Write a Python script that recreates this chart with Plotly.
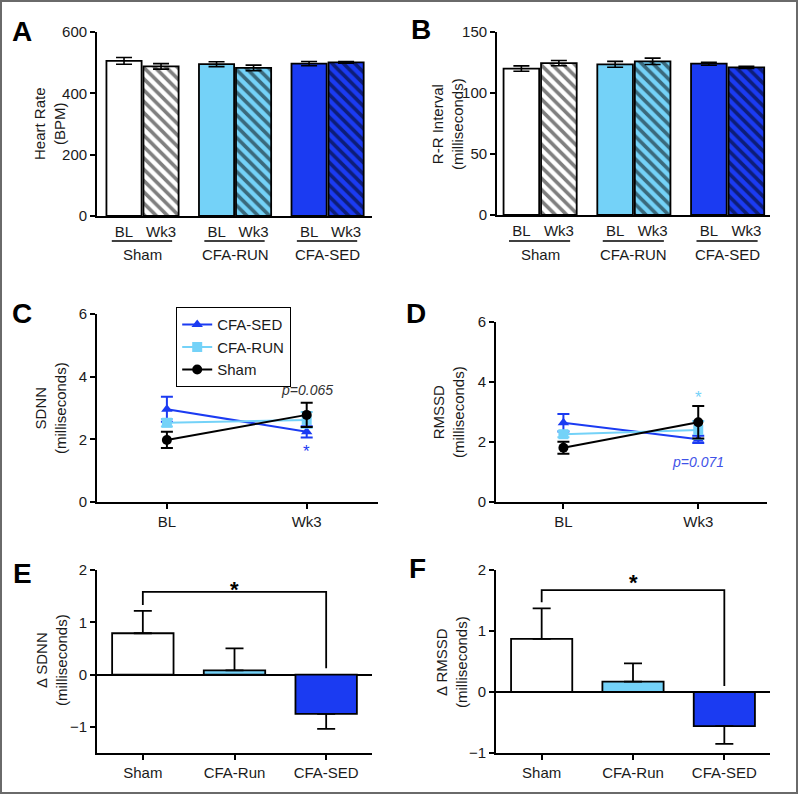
import plotly.graph_objects as go

# ---------------- data ----------------
groups = ["Sham", "CFA-RUN", "CFA-SED"]
timepoints = ["BL", "Wk3"]

hr_bl = [506, 495, 497]
hr_bl_err = [11, 8, 7]
hr_wk3 = [488, 483, 501]
hr_wk3_err = [9, 9, 3]

rr_bl = [120, 123.5, 124]
rr_bl_err = [2.2, 2.4, 1.2]
rr_wk3 = [124.5, 126, 121]
rr_wk3_err = [2.2, 2.6, 0.8]

line_series = ["CFA-SED", "CFA-RUN", "Sham"]
sdnn = {"CFA-SED": [2.96, 2.24], "CFA-RUN": [2.53, 2.62], "Sham": [1.98, 2.78]}
sdnn_err = {"CFA-SED": [0.4, 0.18], "CFA-RUN": [0.12, 0.25], "Sham": [0.26, 0.39]}
rmssd = {"CFA-SED": [2.64, 2.09], "CFA-RUN": [2.26, 2.4], "Sham": [1.81, 2.66]}
rmssd_err = {"CFA-SED": [0.29, 0.12], "CFA-RUN": [0.1, 0.3], "Sham": [0.2, 0.54]}

delta_cats = ["Sham", "CFA-Run", "CFA-SED"]
d_sdnn = [0.79, 0.08, -0.75]
d_sdnn_err = [0.43, 0.42, 0.29]
d_rmssd = [0.87, 0.17, -0.56]
d_rmssd_err = [0.5, 0.3, 0.29]

# ---------------- styles ----------------
W, H = 800, 797
WHITE = "#ffffff"
LIGHT = "#74D2F8"
BLUE = "#1B3BF2"
fills = [WHITE, LIGHT, BLUE]
line_colors = {"CFA-SED": BLUE, "CFA-RUN": LIGHT, "Sham": "#000000"}
symbols = {"CFA-SED": "triangle-up", "CFA-RUN": "square", "Sham": "circle"}
FONT = "Liberation Sans, Arial, sans-serif"
TXT = "#1a1a1a"


def fx(p):
    return p / W


def fy(p):
    return 1 - p / H


fig = go.Figure()

# ---------- A and B: grouped bars ----------
pitch_sub, pitch_grp = 1.0, 2.5
bl_x = [g * pitch_grp for g in range(len(groups))]
wk_x = [g * pitch_grp + pitch_sub for g in range(len(groups))]

for ax, blv, ble, wkv, wke in [("", hr_bl, hr_bl_err, hr_wk3, hr_wk3_err),
                                ("2", rr_bl, rr_bl_err, rr_wk3, rr_wk3_err)]:
    for g in range(len(groups)):
        fig.add_trace(go.Bar(
            x=[bl_x[g]], y=[blv[g]], width=0.95, xaxis="x" + ax, yaxis="y" + ax,
            showlegend=False,
            marker=dict(color=fills[g], line=dict(color="black", width=1.8)),
            error_y=dict(type="data", array=[ble[g]], color="black", thickness=1.6, width=8)))
        fig.add_trace(go.Bar(
            x=[wk_x[g]], y=[wkv[g]], width=0.95, xaxis="x" + ax, yaxis="y" + ax,
            showlegend=False,
            marker=dict(color=fills[g], line=dict(color="black", width=1.8),
                        pattern=dict(shape="\\", size=8, solidity=0.45,
                                     fgcolor="black", fillmode="overlay")),
            error_y=dict(type="data", array=[wke[g]], color="black", thickness=1.6, width=8)))

# ---------- C and D: line plots ----------
for ax, vals, errs, leg in [("3", sdnn, sdnn_err, True), ("4", rmssd, rmssd_err, False)]:
    for s in line_series:
        fig.add_trace(go.Scatter(
            x=timepoints, y=vals[s], name=s, mode="lines+markers",
            xaxis="x" + ax, yaxis="y" + ax, showlegend=leg,
            line=dict(color=line_colors[s], width=2),
            marker=dict(symbol=symbols[s], size=10, color=line_colors[s]),
            error_y=dict(type="data", array=errs[s], color=line_colors[s],
                         thickness=2, width=6)))

# ---------- E and F: delta bars ----------
for ax, vals, errs in [("5", d_sdnn, d_sdnn_err), ("6", d_rmssd, d_rmssd_err)]:
    up = [e if v >= 0 else 0 for v, e in zip(vals, errs)]
    down = [e if v < 0 else 0 for v, e in zip(vals, errs)]
    fig.add_trace(go.Bar(
        x=delta_cats, y=vals, width=0.67, xaxis="x" + ax, yaxis="y" + ax, showlegend=False,
        marker=dict(color=fills, line=dict(color="black", width=1.8)),
        error_y=dict(type="data", symmetric=False, array=up, arrayminus=down,
                     color="black", thickness=1.8, width=9)))

# ---------------- axes ----------------
axis_common = dict(showline=True, linecolor="black", linewidth=1.8, showgrid=False,
                   zeroline=False, automargin=False,
                   tickfont=dict(size=15, color=TXT, family=FONT),
                   tickcolor="black", tickwidth=1.8)


def xdom(a, b):
    return [fx(a), fx(b)]


def ydom(top, bot):
    return [fy(bot), fy(top)]


layout_axes = {}
# A
layout_axes["xaxis"] = dict(axis_common, domain=xdom(97, 372), range=[-0.73, 6.7],
                            tickvals=bl_x + wk_x, ticktext=["BL"] * 3 + ["Wk3"] * 3,
                            ticks="", anchor="y", ticklabelstandoff=1)
layout_axes["yaxis"] = dict(axis_common, domain=ydom(32, 216), range=[0, 600],
                            tickvals=[0, 200, 400, 600], ticks="outside", ticklen=5,
                            anchor="x")
# B
layout_axes["xaxis2"] = dict(axis_common, domain=xdom(497, 770), range=[-0.65, 6.63],
                             tickvals=bl_x + wk_x, ticktext=["BL"] * 3 + ["Wk3"] * 3,
                             ticks="", anchor="y2", ticklabelstandoff=1)
layout_axes["yaxis2"] = dict(axis_common, domain=ydom(32, 215), range=[0, 150],
                             tickvals=[0, 50, 100, 150], ticks="outside", ticklen=5,
                             anchor="x2")
# C
layout_axes["xaxis3"] = dict(axis_common, domain=xdom(97, 378), range=[-0.5, 1.51],
                             type="category", ticks="outside", ticklen=5, anchor="y3")
layout_axes["yaxis3"] = dict(axis_common, domain=ydom(314, 502), range=[0, 6],
                             tickvals=[0, 2, 4, 6], ticks="outside", ticklen=5, anchor="x3")
# D
layout_axes["xaxis4"] = dict(axis_common, domain=xdom(496, 767), range=[-0.5, 1.51],
                             type="category", ticks="outside", ticklen=5, anchor="y4")
layout_axes["yaxis4"] = dict(axis_common, domain=ydom(322, 502), range=[0, 6],
                             tickvals=[0, 2, 4, 6], ticks="outside", ticklen=5, anchor="x4")
# E
layout_axes["xaxis5"] = dict(axis_common, domain=xdom(97, 372), range=[-0.5, 2.5],
                             type="category", ticks="outside", ticklen=5, anchor="y5")
layout_axes["yaxis5"] = dict(axis_common, domain=ydom(570, 753), range=[-1.5, 2],
                             tickvals=[-1, 0, 1, 2], ticks="outside", ticklen=5, anchor="x5",
                             zeroline=True, zerolinecolor="black", zerolinewidth=1.8)
# F
layout_axes["xaxis6"] = dict(axis_common, domain=xdom(496, 770), range=[-0.5, 2.5],
                             type="category", ticks="outside", ticklen=5, anchor="y6")
layout_axes["yaxis6"] = dict(axis_common, domain=ydom(570, 753), range=[-1, 2],
                             tickvals=[-1, 0, 1, 2], ticks="outside", ticklen=5, anchor="x6",
                             zeroline=True, zerolinecolor="black", zerolinewidth=1.8)

annotations = []
shapes = []

# panel letters
for letter, cx, cy in [("A", 22, 32), ("B", 421, 29), ("C", 22, 313),
                       ("D", 416, 313), ("E", 22, 573), ("F", 417, 568)]:
    annotations.append(dict(text="<b>%s</b>" % letter, x=fx(cx), y=fy(cy), xref="paper",
                            yref="paper", showarrow=False, xanchor="center", yanchor="middle",
                            font=dict(size=28, color="black", family=FONT)))

# y-axis titles
for title, cx, cy in [("Heart Rate<br>(BPM)", 49, 124),
                      ("R-R Interval<br>(milliseconds)", 447, 124),
                      ("SDNN<br>(milliseconds)", 50, 408),
                      ("RMSSD<br>(milliseconds)", 448, 412),
                      ("\u0394 SDNN<br>(milliseconds)", 51, 660),
                      ("\u0394 RMSSD<br>(milliseconds)", 451, 662)]:
    annotations.append(dict(text=title, x=fx(cx), y=fy(cy), xref="paper", yref="paper",
                            showarrow=False, textangle=-90, xanchor="center",
                            yanchor="middle", font=dict(size=15, color=TXT, family=FONT)))

# group underlines and names for A and B
for xr in ["x", "x2"]:
    for g, name in enumerate(groups):
        x0 = bl_x[g] - 0.33
        x1 = wk_x[g] + 0.3
        shapes.append(dict(type="line", xref=xr, yref="paper", x0=x0, x1=x1,
                           y0=fy(241), y1=fy(241), line=dict(color="black", width=1.5)))
        annotations.append(dict(text=name, x=(bl_x[g] + wk_x[g]) / 2, y=fy(255), xref=xr,
                                yref="paper", showarrow=False, xanchor="center",
                                yanchor="middle", font=dict(size=15, color=TXT, family=FONT)))

# significance marks in C and D
annotations += [
    dict(text="<i>p=0.065</i>", x="Wk3", y=3.57, xref="x3", yref="y3", showarrow=False,
         font=dict(size=14, color="#333333", family=FONT)),
    dict(text="*", x="Wk3", y=1.62, xref="x3", yref="y3", showarrow=False,
         font=dict(size=17, color=BLUE, family=FONT)),
    dict(text="*", x="Wk3", y=3.47, xref="x4", yref="y4", showarrow=False,
         font=dict(size=17, color=LIGHT, family=FONT)),
    dict(text="<i>p=0.071</i>", x="Wk3", y=1.35, xref="x4", yref="y4", showarrow=False,
         font=dict(size=14, color="#3F52E8", family=FONT)),
]

# brackets in E and F
for xr, yr, yl, ytop, yr_end, ystar in [("x5", "y5", 1.33, 1.58, 0.12, 1.62),
                                        ("x6", "y6", 1.47, 1.67, 0.1, 1.79)]:
    shapes.append(dict(type="path", xref=xr, yref=yr,
                       path="M 0 %f L 0 %f L 2 %f L 2 %f" % (yl, ytop, ytop, yr_end),
                       line=dict(color="black", width=1.8)))
    annotations.append(dict(text="<b>*</b>", x=1, y=ystar, xref=xr, yref=yr,
                            showarrow=False, yanchor="middle",
                            font=dict(size=22, color="black", family=FONT)))

# outer border
shapes.append(dict(type="rect", xref="paper", yref="paper", x0=fx(1), x1=fx(797),
                   y0=fy(793), y1=fy(1), line=dict(color="#6a6a6a", width=2)))

fig.update_layout(
    template="none",
    width=W, height=H, margin=dict(l=0, r=0, t=0, b=0, pad=0),
    paper_bgcolor="white", plot_bgcolor="white",
    font=dict(family=FONT, size=15, color=TXT),
    barmode="overlay", showlegend=True,
    legend=dict(x=fx(176), y=fy(307), xanchor="left", yanchor="top",
                bordercolor="black", borderwidth=1.2, bgcolor="white",
                font=dict(size=15, color=TXT, family=FONT), tracegroupgap=0),
    annotations=annotations, shapes=shapes,
    **layout_axes)

fig.write_html("out.html", config={"displayModeBar": False},
               post_script="document.body.style.margin='0';")
